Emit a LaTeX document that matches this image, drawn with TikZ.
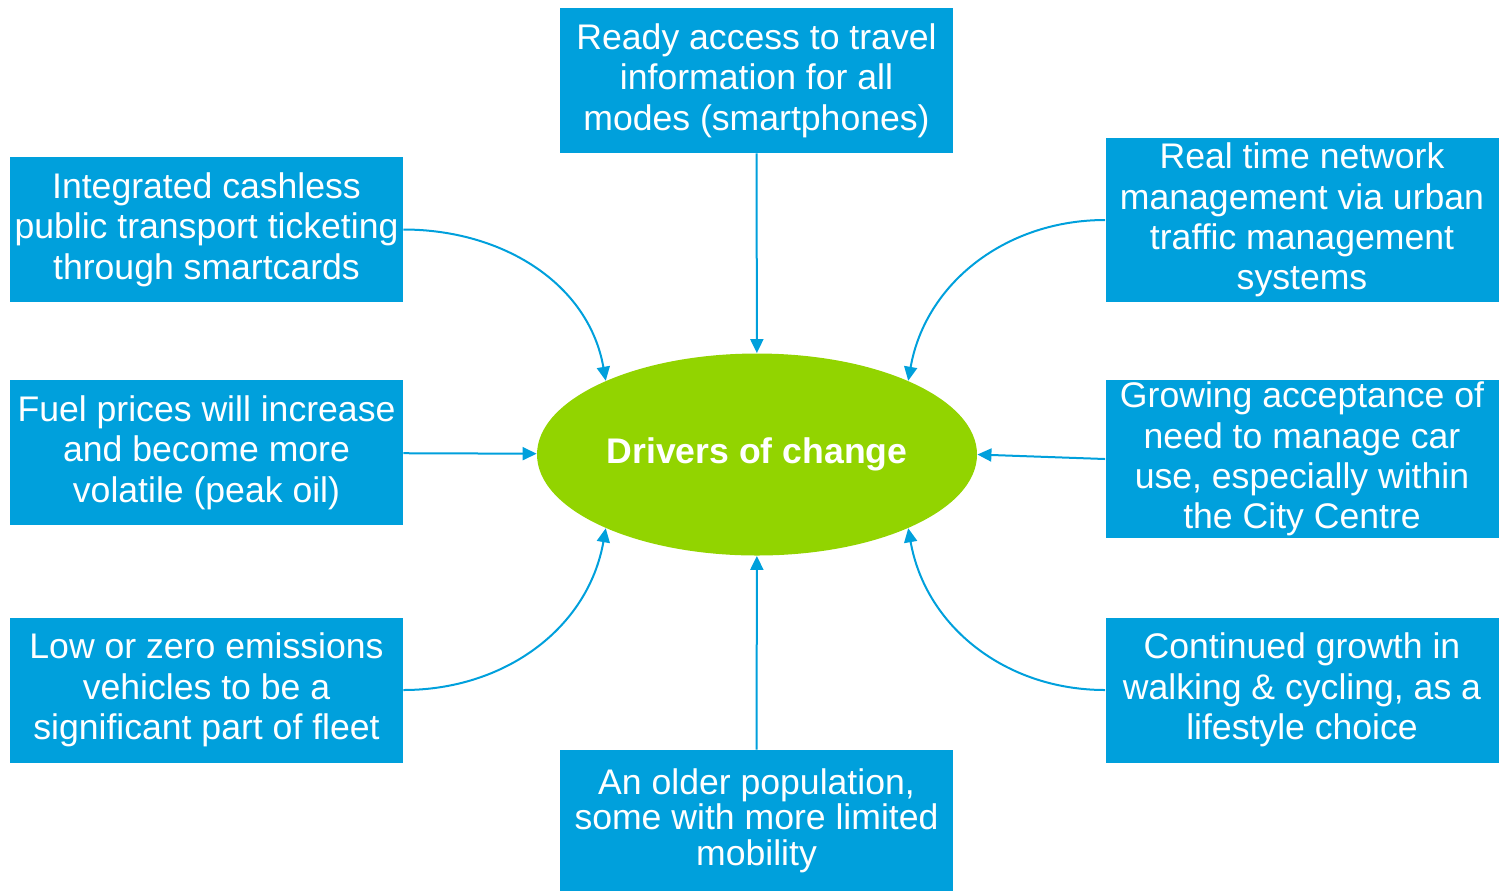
\documentclass[tikz,border=0pt]{standalone}
\usepackage{fontspec}
\setmainfont{Liberation Sans}
\usetikzlibrary{shapes.geometric,arrows.meta}
\definecolor{boxblue}{HTML}{00A0DC}
\definecolor{drvgreen}{HTML}{92D400}
\begin{document}
\begin{tikzpicture}[x=.5pt,y=.5pt,
  cause/.style={fill=boxblue,text=white,align=center,inner sep=0pt,
    minimum width=196.5pt,minimum height=72.5pt,
    font=\fontsize{17.8}{20.2}\selectfont},
  hub/.style={ellipse,fill=drvgreen,text=white,inner sep=0pt,
    minimum width=220pt,minimum height=101pt,
    font=\fontsize{17.8}{20}\selectfont\bfseries},
  link/.style={boxblue,line width=1pt,-{Stealth[length=7pt,width=6.5pt,inset=0pt]}}]
\useasboundingbox (0,0) rectangle (1499,-891);
\node[hub] (drv) at (757,-454.5) {Drivers of change};
%
\node[cause] (info) at (756.5,-80.5) {Ready access to travel\\information for all\\modes (smartphones)};
\node[cause] (ticket) at (206.5,-229.5) {Integrated cashless\\public transport ticketing\\through smartcards};
\node[cause] (fuel) at (206.5,-452.5) {Fuel prices will increase\\and become more\\volatile (peak oil)};
\node[cause] (emis) at (206.5,-690) {Low or zero emissions\\vehicles to be a\\significant part of fleet};
\node[cause,minimum height=82pt] (utmc) at (1302,-220) {Real time network\\management via urban\\traffic management\\systems};
\node[cause,minimum height=79pt] (car) at (1302,-459) {Growing acceptance of\\need to manage car\\use, especially within\\the City Centre};
\node[cause] (walk) at (1302,-690) {Continued growth in\\walking \& cycling, as a\\lifestyle choice};
\node[cause,minimum height=70.5pt,font=\fontsize{17.8}{17.8}\selectfont] (older) at (756.5,-820.5) {An older population,\\some with more limited\\mobility};
%
\draw[link] (info) -- (drv);
\draw[link] (older) -- (drv);
\draw[link] (fuel) -- (drv);
\draw[link] (car.west) -- (drv.east);
\draw[link] (ticket.east) to[out=0,in=100] (drv.154);
\draw[link] (emis.east) to[out=0,in=-100] (drv.206);
\draw[link] (utmc.west) to[out=180,in=80] (drv.26);
\draw[link] (walk.west) to[out=180,in=-80] (drv.-26);
\end{tikzpicture}
\end{document}
